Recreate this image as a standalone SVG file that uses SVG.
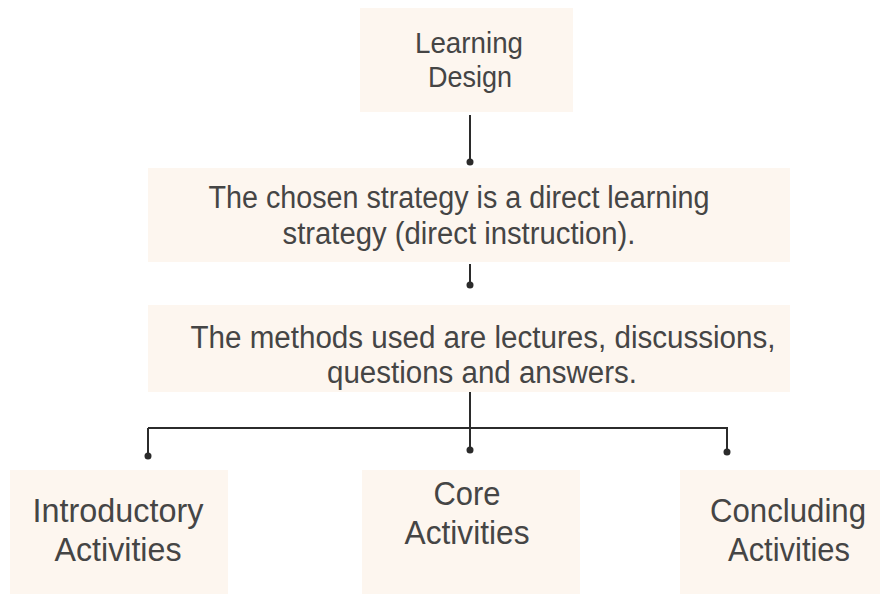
<svg xmlns="http://www.w3.org/2000/svg" width="880" height="594" viewBox="0 0 880 594">
<defs>
<style>
.box{fill:#fdf6ef;}
.t{font-family:"Liberation Sans",Arial,sans-serif;fill:#454545;text-anchor:middle;}
.ln{stroke:#2b2b2b;stroke-width:2;fill:none;}
.dot{fill:#2b2b2b;}
</style>
</defs>
<rect width="880" height="594" fill="#ffffff"/>
<g id="node-learning-design">
<rect class="box" x="360" y="8" width="213" height="104"/>
<text class="t" font-size="30" x="469" y="53" textLength="108" lengthAdjust="spacingAndGlyphs">Learning</text>
<text class="t" font-size="30" x="470" y="87" textLength="84" lengthAdjust="spacingAndGlyphs">Design</text>
</g>
<g id="node-strategy">
<rect class="box" x="148" y="168" width="642" height="94"/>
<text class="t" font-size="31" x="459" y="208" textLength="501" lengthAdjust="spacingAndGlyphs">The chosen strategy is a direct learning</text>
<text class="t" font-size="31" x="459" y="244" textLength="353" lengthAdjust="spacingAndGlyphs">strategy (direct instruction).</text>
</g>
<g id="node-methods">
<rect class="box" x="148" y="305" width="642" height="87"/>
<text class="t" font-size="31" x="483" y="348" textLength="585" lengthAdjust="spacingAndGlyphs">The methods used are lectures, discussions,</text>
<text class="t" font-size="31" x="482" y="383" textLength="310" lengthAdjust="spacingAndGlyphs">questions and answers.</text>
</g>
<g id="node-introductory">
<rect class="box" x="10" y="470" width="218" height="124"/>
<text class="t" font-size="34" x="118" y="522" textLength="171" lengthAdjust="spacingAndGlyphs">Introductory</text>
<text class="t" font-size="34" x="118" y="561" textLength="127" lengthAdjust="spacingAndGlyphs">Activities</text>
</g>
<g id="node-core">
<rect class="box" x="362" y="470" width="218" height="124"/>
<text class="t" font-size="34" x="467" y="505" textLength="67" lengthAdjust="spacingAndGlyphs">Core</text>
<text class="t" font-size="34" x="467" y="544" textLength="125" lengthAdjust="spacingAndGlyphs">Activities</text>
</g>
<g id="node-concluding">
<rect class="box" x="680" y="470" width="200" height="124"/>
<text class="t" font-size="34" x="788" y="522" textLength="156" lengthAdjust="spacingAndGlyphs">Concluding</text>
<text class="t" font-size="34" x="789" y="561" textLength="122" lengthAdjust="spacingAndGlyphs">Activities</text>
</g>
<g id="connectors">
<path class="ln" d="M470 115 V161"/>
<circle class="dot" cx="470" cy="162" r="3.5"/>
<path class="ln" d="M470 264 V284"/>
<circle class="dot" cx="470" cy="285" r="3.5"/>
<path class="ln" d="M470 392 V428"/>
<path class="ln" d="M148 428 H728"/>
<path class="ln" d="M148 428 V455"/>
<circle class="dot" cx="148" cy="456" r="3.5"/>
<path class="ln" d="M470 428 V449"/>
<circle class="dot" cx="470" cy="450" r="3.5"/>
<path class="ln" d="M727 428 V451"/>
<circle class="dot" cx="727" cy="452" r="3.5"/>
</g>
</svg>
